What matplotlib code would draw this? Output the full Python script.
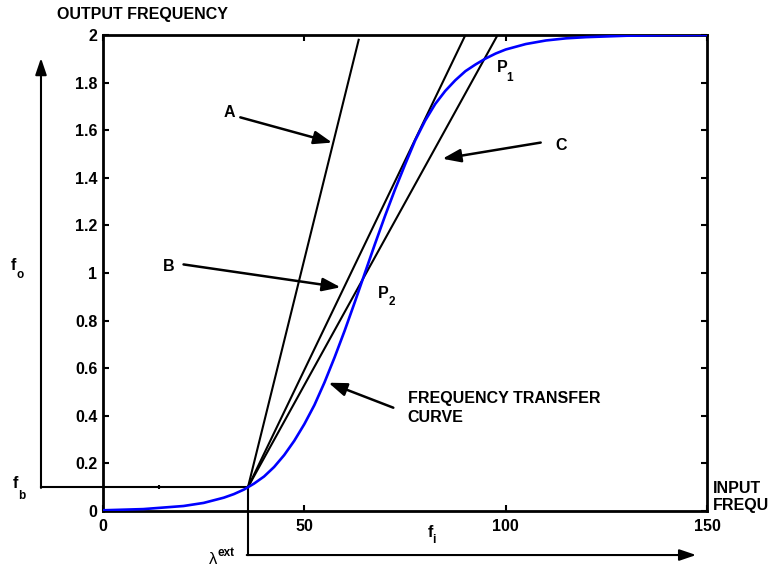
import numpy as np
import matplotlib
matplotlib.use('Agg')
import matplotlib.pyplot as plt
from matplotlib import rcParams

rcParams['font.family'] = 'Liberation Sans'
rcParams['font.weight'] = 'bold'
rcParams['font.size'] = 11.5

# ── data ────────────────────────────────────────────────────────────────
f_in = [0, 10, 20, 25, 30, 32.5, 35, 37.5, 40, 42.5, 45, 47.5, 50, 52.5,
        55, 57.5, 60, 62.5, 65, 67.5, 70, 72.5, 75, 77.5, 80, 82.5, 85,
        87.5, 90, 92.5, 95, 97.5, 100, 105, 110, 115, 120, 130, 140, 150]
f_out = [0.003, 0.008, 0.021, 0.034, 0.056, 0.071, 0.090, 0.115, 0.145,
         0.185, 0.235, 0.295, 0.365, 0.445, 0.540, 0.645, 0.757, 0.876,
         0.998, 1.120, 1.238, 1.350, 1.455, 1.556, 1.640, 1.710, 1.765,
         1.810, 1.848, 1.876, 1.901, 1.922, 1.939, 1.962, 1.977, 1.986,
         1.991, 1.997, 1.999, 2.000]

lam_ext = 36.0      # input frequency at the bend
f_b = 0.1           # base output frequency
line_names = ['A', 'B', 'C']
line_end_x = [63.5, 90.0, 98.0]
line_end_y = [1.98, 2.0, 2.0]

x_ticks = [0, 50, 100, 150]
y_ticks = [0, 0.2, 0.4, 0.6, 0.8, 1.0, 1.2, 1.4, 1.6, 1.8, 2.0]

W, H = 769, 568
fig = plt.figure(figsize=(W / 100, H / 100), dpi=100)
ax = fig.add_axes([103 / W, 1 - 511 / H, 604 / W, 476 / H])


def px(x, y):
    return x / W, 1 - y / H


ax.plot(f_in, f_out, color='#0000ff', lw=1.9, zorder=3)
for xe, ye in zip(line_end_x, line_end_y):
    ax.plot([lam_ext, xe], [f_b, ye], color='k', lw=1.5, zorder=2)

# f_b line, vertical f_o arrow, lambda_ext drop and f_i arrow (outside axes)
ax.plot([-15.4, lam_ext], [f_b, f_b], color='k', lw=1.5, clip_on=False)
ax.plot([14], [f_b], marker='|', ms=3, mew=1.5, color='k')
ax.plot([lam_ext, lam_ext], [f_b, -0.185], color='k', lw=1.5, clip_on=False)
arrow = dict(arrowstyle='-|>,head_length=0.5,head_width=0.17',
             color='k', lw=1.5, mutation_scale=20, shrinkA=0, shrinkB=0)
ax.annotate('', xy=(-15.4, 1.903), xytext=(-15.4, f_b - 0.003),
            arrowprops=arrow, annotation_clip=False)
ax.annotate('', xy=(147.3, -0.185), xytext=(lam_ext - 0.3, -0.185),
            arrowprops=arrow, annotation_clip=False)

# labelled arrows
arr2 = dict(arrowstyle='-|>,head_length=0.55,head_width=0.2',
            color='k', lw=1.8, mutation_scale=20, shrinkA=0, shrinkB=0)
ax.annotate('', xy=(56.9, 1.548), xytext=(34.1, 1.654), arrowprops=arr2)
ax.text(31.4, 1.674, 'A', ha='center', va='center')
ax.annotate('', xy=(59.0, 0.94), xytext=(20.0, 1.036), arrowprops=arr2)
ax.text(16.3, 1.027, 'B', ha='center', va='center')
ax.annotate('', xy=(84.3, 1.48), xytext=(108.7, 1.548), arrowprops=arr2)
ax.text(113.7, 1.535, 'C', ha='center', va='center')
ax.annotate('', xy=(56.0, 0.539), xytext=(72.1, 0.434), arrowprops=arr2)
ax.text(75.7, 0.432, 'FREQUENCY TRANSFER\nCURVE', ha='left', va='center',
        linespacing=1.3)

ax.text(99.2, 1.863, 'P', ha='center', va='center')
ax.text(101.0, 1.819, '1', ha='center', va='center', fontsize=8.5)
ax.text(69.7, 0.915, 'P', ha='center', va='center')
ax.text(71.8, 0.879, '2', ha='center', va='center', fontsize=8.5)

# axis texts
fig.text(*px(142.5, 14.3), 'OUTPUT FREQUENCY', ha='center', va='center')
fig.text(*px(713, 497), 'INPUT\nFREQU', ha='left', va='center',
         linespacing=1.15)
fig.text(*px(13.3, 265), 'f', ha='center', va='center')
fig.text(*px(20, 275), 'o', ha='center', va='center', fontsize=8.5)
fig.text(*px(15, 483.3), 'f', ha='center', va='center')
fig.text(*px(21.7, 496), 'b', ha='center', va='center', fontsize=8.5)
fig.text(*px(430, 532.7), 'f', ha='center', va='center')
fig.text(*px(434, 540), 'i', ha='center', va='center', fontsize=8.5)
fig.text(*px(213.5, 559), 'λ', ha='center', va='center', fontweight='normal',
         fontsize=12)
fig.text(*px(226.5, 553), 'ext', ha='center', va='center', fontsize=8.5)

ax.set_xlim(0, 150)
ax.set_ylim(0, 2)
ax.set_xticks(x_ticks)
ax.set_xticklabels([f'{v:g}' for v in x_ticks])
ax.set_yticks(y_ticks)
ax.set_yticklabels([f'{v:g}' for v in y_ticks])
ax.tick_params(direction='in', length=4, width=1.5, top=True, right=True,
               labelsize=11.5, pad=4)
ax.tick_params(axis='x', pad=6)
for s in ax.spines.values():
    s.set_linewidth(2)

fig.savefig('out.png', dpi=100)
